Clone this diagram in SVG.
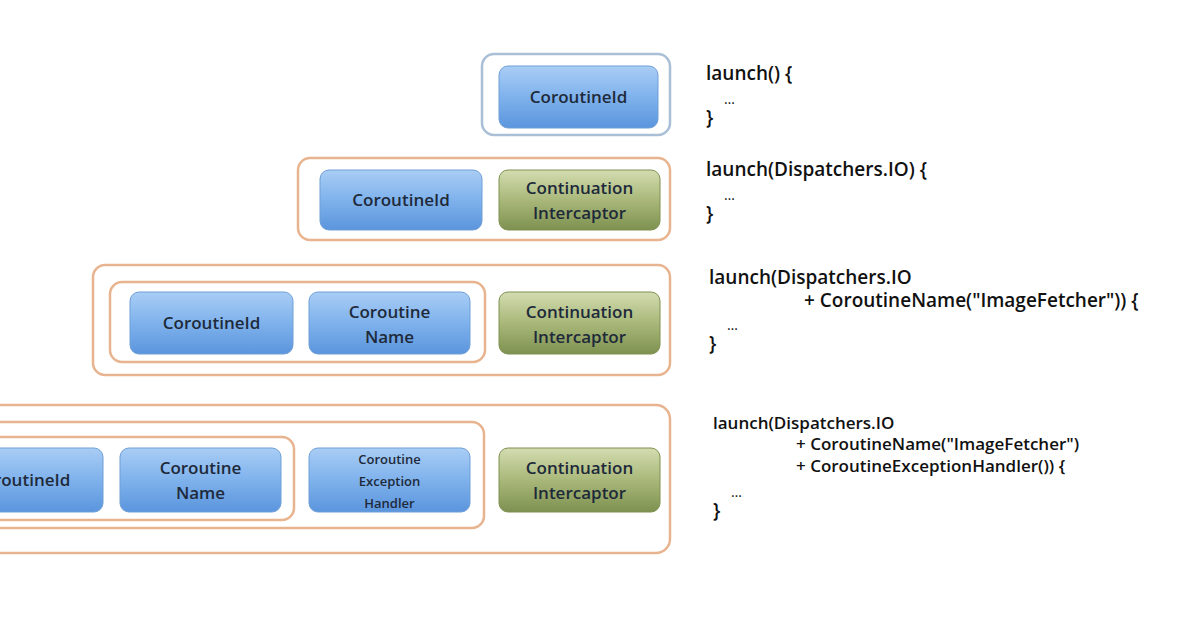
<svg xmlns="http://www.w3.org/2000/svg" width="1200" height="627" viewBox="0 0 1200 627">
<defs>
<linearGradient id="gb" x1="0" y1="0" x2="0" y2="1"><stop offset="0" stop-color="#a9cdf5"/><stop offset="0.5" stop-color="#7fb2ec"/><stop offset="1" stop-color="#5b95dd"/></linearGradient>
<linearGradient id="gg" x1="0" y1="0" x2="0" y2="1"><stop offset="0" stop-color="#d3dcb0"/><stop offset="0.5" stop-color="#a9b87a"/><stop offset="1" stop-color="#7e9150"/></linearGradient>
</defs>
<style>
.o{fill:none;stroke:#e8b48f;stroke-width:2.5}
.ob{fill:none;stroke:#a9bfd6;stroke-width:2.5}
.b{fill:url(#gb);stroke:#6f9fd6;stroke-width:1}
.g{fill:url(#gg);stroke:#7e9150;stroke-width:1}
.t{font-family:"Open Sans","DejaVu Sans",sans-serif;font-size:17px;font-weight:600;fill:#1e2a3a;text-anchor:middle}
.s{font-family:"Open Sans","DejaVu Sans",sans-serif;font-size:13px;font-weight:600;fill:#1e2a3a;text-anchor:middle}
.c{font-family:"Open Sans","DejaVu Sans",sans-serif;font-size:19px;font-weight:600;fill:#111}
.c2{font-family:"Open Sans","DejaVu Sans",sans-serif;font-size:17px;font-weight:600;fill:#111}
.d{font-family:"Open Sans","DejaVu Sans",sans-serif;font-size:14px;fill:#111}
</style>
<rect width="1200" height="627" fill="#fff"/>
<g id="frames">
<rect class="ob" x="482" y="54" width="188" height="81" rx="12"/>
<rect class="o" x="298" y="158" width="372" height="82" rx="12"/>
<rect class="o" x="93" y="265" width="577" height="110" rx="12"/>
<rect class="o" x="110" y="282" width="375" height="80" rx="12"/>
<rect class="o" x="-20" y="405" width="690" height="148" rx="14"/>
<rect class="o" x="-20" y="422" width="504" height="106" rx="12"/>
<rect class="o" x="-20" y="437" width="314" height="83" rx="12"/>
</g>
<g id="n1"><rect class="b" x="499" y="66" width="159" height="62" rx="9"/><text class="t" x="578.5" y="103">CoroutineId</text></g>
<g id="n2a"><rect class="b" x="320" y="170" width="162" height="60" rx="9"/><text class="t" x="401" y="206">CoroutineId</text></g>
<g id="n2b"><rect class="g" x="499" y="170" width="161" height="60" rx="9"/><text class="t" x="579.5" y="194">Continuation</text><text class="t" x="579.5" y="219">Intercaptor</text></g>
<g id="n3a"><rect class="b" x="130" y="292" width="163" height="62" rx="9"/><text class="t" x="211.5" y="329">CoroutineId</text></g>
<g id="n3b"><rect class="b" x="309" y="292" width="161" height="62" rx="9"/><text class="t" x="389.5" y="318">Coroutine</text><text class="t" x="389.5" y="343">Name</text></g>
<g id="n3c"><rect class="g" x="499" y="292" width="161" height="62" rx="9"/><text class="t" x="579.5" y="318">Continuation</text><text class="t" x="579.5" y="343">Intercaptor</text></g>
<g id="n4a"><rect class="b" x="-60" y="448" width="163" height="64" rx="9"/><text class="t" x="21.5" y="486">CoroutineId</text></g>
<g id="n4b"><rect class="b" x="120" y="448" width="161" height="64" rx="9"/><text class="t" x="200.5" y="474">Coroutine</text><text class="t" x="200.5" y="499">Name</text></g>
<g id="n4c"><rect class="b" x="309" y="448" width="161" height="64" rx="9"/><text class="s" x="389.5" y="464">Coroutine</text><text class="s" x="389.5" y="486">Exception</text><text class="s" x="389.5" y="508">Handler</text></g>
<g id="n4d"><rect class="g" x="499" y="448" width="161" height="64" rx="9"/><text class="t" x="579.5" y="474">Continuation</text><text class="t" x="579.5" y="499">Intercaptor</text></g>
<g id="connectors"></g>
<g id="code">
<text class="c" x="706" y="80">launch() {</text><text class="d" x="724" y="104">…</text><text class="c" x="706" y="124">}</text>
<text class="c" x="706" y="176">launch(Dispatchers.IO) {</text><text class="d" x="724" y="200">…</text><text class="c" x="706" y="220">}</text>
<text class="c" x="709" y="284">launch(Dispatchers.IO</text><text class="c" x="804" y="307">+ CoroutineName("ImageFetcher")) {</text><text class="d" x="727" y="330">…</text><text class="c" x="709" y="350">}</text>
<text class="c2" x="713" y="429">launch(Dispatchers.IO</text><text class="c2" x="796" y="450">+ CoroutineName("ImageFetcher")</text><text class="c2" x="796" y="472">+ CoroutineExceptionHandler()) {</text><text class="d" x="731" y="497">…</text><text class="c" x="713" y="517">}</text>
</g>
</svg>
